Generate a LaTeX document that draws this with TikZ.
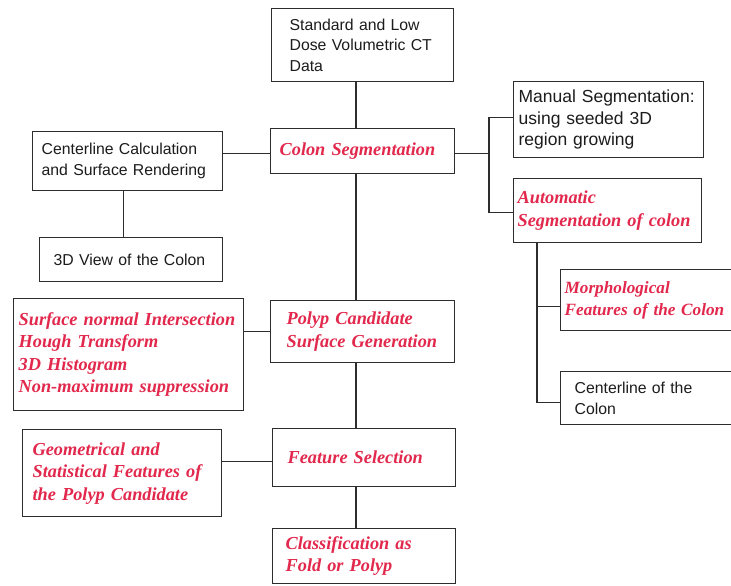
\documentclass[tikz,border=0pt]{standalone}
\usepackage{fontspec}
\setmainfont{Liberation Serif}
\newfontfamily\plainsans{Liberation Sans}
\definecolor{hlred}{RGB}{226,40,76}
\definecolor{ink}{RGB}{28,28,28}
\definecolor{frame}{RGB}{45,45,45}
\tikzset{
  box/.style={draw=frame, line width=1.3pt, rectangle, anchor=north west,
              inner ysep=0pt, align=left, fill=white},
  plain/.style={box, font=\plainsans\fontsize{15.8}{20.5}\selectfont, text=ink},
  accent/.style={box, font=\bfseries\itshape\fontsize{18.3}{22.5}\selectfont, text=hlred},
  link/.style={draw=frame, line width=1.2pt},
}
\begin{document}
\begin{tikzpicture}[x=1pt, y=-1pt]
\useasboundingbox (0,0) rectangle (731,586);

% main column
\node[plain, minimum width=182pt, minimum height=73pt, inner xsep=18pt, text width=146pt]
  (data) at (271,8) {Standard and Low\\Dose Volumetric CT\\Data};
\node[accent, minimum width=184pt, minimum height=45pt, inner xsep=9pt, text width=166pt]
  (seg) at (270,128) {Colon Segmentation};
\node[accent, minimum width=184pt, minimum height=62pt, inner xsep=16pt, text width=152pt]
  (poly) at (270,300) {Polyp Candidate\\Surface Generation};
\node[accent, minimum width=183pt, minimum height=58pt, inner xsep=15pt, text width=153pt]
  (fs) at (272,428) {Feature Selection};
\node[accent, minimum width=183pt, minimum height=55pt, inner xsep=13pt, text width=157pt]
  (cls) at (272,528) {Classification as\\Fold or Polyp};

% left branch
\node[plain, minimum width=190pt, minimum height=59pt, inner xsep=9pt, text width=172pt]
  (cen) at (32,131) {Centerline Calculation\\and Surface Rendering};
\node[plain, minimum width=183pt, minimum height=44pt, inner xsep=14pt, text width=155pt]
  (view) at (39,237) {3D View of the Colon};
\node[accent, minimum width=230pt, minimum height=112pt, inner xsep=5pt, text width=220pt]
  (sni) at (13,298) {Surface normal Intersection\\Hough Transform\\3D Histogram\\Non-maximum suppression};
\node[accent, minimum width=199pt, minimum height=87pt, inner xsep=10pt, text width=179pt]
  (geo) at (22,429) {Geometrical and\\Statistical Features of\\the Polyp Candidate};

% right branch
\node[plain, font=\plainsans\fontsize{17.5}{21.5}\selectfont,
      minimum width=190pt, minimum height=76pt, inner xsep=5pt, text width=180pt]
  (man) at (513,81) {Manual Segmentation:\\using seeded 3D\\region growing};
\node[accent, minimum width=188pt, minimum height=64pt, inner xsep=4pt, text width=180pt]
  (auto) at (513,178) {Automatic\\Segmentation of colon};
\node[accent, font=\bfseries\itshape\fontsize{17.2}{21.5}\selectfont,
      minimum width=180pt, minimum height=61pt, inner xsep=4pt, text width=172pt]
  (morph) at (560,269) {Morphological\\Features of the Colon};
\node[plain, minimum width=180pt, minimum height=53pt, inner xsep=14pt, text width=152pt]
  (cl) at (560,371) {Centerline of the\\Colon};

% trunk of the main column
\coordinate (trunk) at (356,0);
\draw[link] (data.south -| trunk) -- (seg.north -| trunk);
\draw[link] (seg.south -| trunk) -- (poly.north -| trunk);
\draw[link] (poly.south -| trunk) -- (fs.north -| trunk);
\draw[link] (fs.south -| trunk) -- (cls.north -| trunk);

% side connectors
\draw[link] ([yshift=-2.5pt]seg.west) coordinate (s1) -- (s1 -| cen.east);
\draw[link] ([xshift=-4pt]cen.south) coordinate (c1) -- (c1 |- view.north);
\draw[link] (poly.west) -- (poly.west -| sni.east);
\draw[link] ([yshift=-4pt]fs.west) coordinate (f1) -- (f1 -| geo.east);

% segmentation bracket
\coordinate (bx) at (489,0);
\draw[link] ([yshift=-2.5pt]seg.east) coordinate (s2) -- (s2 -| bx);
\path ([yshift=2pt]man.west) coordinate (m1);
\path ([yshift=-2pt]auto.west) coordinate (a1);
\draw[link] (m1) -- (m1 -| bx) -- (a1 -| bx) -- (a1);

% automatic segmentation outputs
\coordinate (vx) at (537,0);
\path ([yshift=-6.5pt]morph.west) coordinate (mo1);
\path ([yshift=-4.5pt]cl.west) coordinate (cl1);
\draw[link] (auto.south -| vx) -- (cl1 -| vx) -- (cl1);
\draw[link] (mo1 -| vx) -- (mo1);
\end{tikzpicture}
\end{document}
